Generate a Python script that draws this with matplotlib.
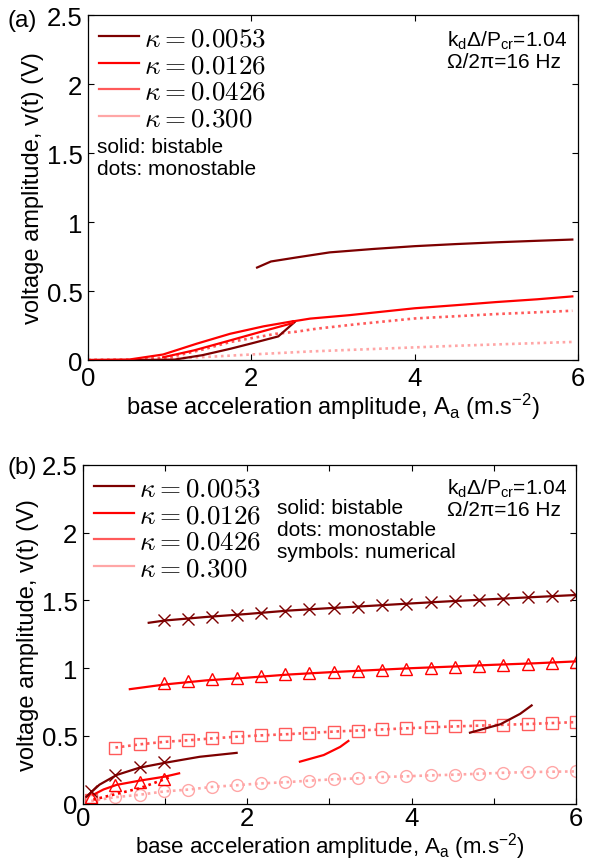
import matplotlib
matplotlib.use("Agg")
import matplotlib.pyplot as plt
import numpy as np
from matplotlib.lines import Line2D
from matplotlib.ticker import MultipleLocator

plt.rcParams['font.family'] = ['Liberation Sans', 'DejaVu Sans']
plt.rcParams['mathtext.fontset'] = 'custom'
plt.rcParams['mathtext.rm'] = 'Liberation Sans'
plt.rcParams['mathtext.it'] = 'Liberation Sans:italic'
plt.rcParams['mathtext.bf'] = 'Liberation Sans:bold'

c1 = '#7d0000'
c2 = '#ff0000'
c3 = '#ff5a5a'
c4 = '#ffa6a6'

kappas = ['0.0053', '0.0126', '0.0426', '0.300']
colors = [c1, c2, c3, c4]

# ---- panel (a) data
a_dark_up_x = [2.07, 2.24, 2.55, 2.96, 3.5, 4.0, 4.5, 5.0, 5.5, 5.93]
a_dark_up_y = [0.67, 0.714, 0.743, 0.78, 0.805, 0.825, 0.840, 0.853, 0.864, 0.873]
a_dark_lo_x = [0, 0.5, 1.06, 1.4, 1.74, 2.0, 2.33, 2.53]
a_dark_lo_y = [0, 0.0, 0.003, 0.035, 0.081, 0.12, 0.171, 0.275]
a_red1_x = [0, 0.5, 0.92, 1.33, 1.74, 2.15, 2.51]
a_red1_y = [0, 0.003, 0.04, 0.118, 0.19, 0.244, 0.281]
a_red2_x = [0.92, 1.3, 1.74, 2.15, 2.51]
a_red2_y = [0.02, 0.07, 0.142, 0.21, 0.268]
a_red3_x = [2.51, 2.72, 3.2, 3.6, 4.0, 4.5, 5.0, 5.5, 5.93]
a_red3_y = [0.28, 0.30, 0.325, 0.35, 0.375, 0.397, 0.42, 0.44, 0.461]
a_lt_x = [0, 0.5, 1.0, 1.4, 1.74, 2.0, 2.3, 2.55, 2.8, 3.3, 4.0, 5.0, 5.93]
a_lt_y = [0, 0.001, 0.02, 0.075, 0.13, 0.158, 0.19, 0.205, 0.227, 0.26, 0.301, 0.333, 0.357]
a_pink_x = [0, 0.5, 1.0, 1.5, 2.0, 2.72, 3.5, 4.5, 5.93]
a_pink_y = [0, 0.002, 0.01, 0.024, 0.04, 0.062, 0.08, 0.103, 0.131]

# ---- panel (b) data
num_x = np.linspace(0.1, 6, 21)
b_dark_up_x = [0.8, 1.0, 1.5, 2.0, 2.5, 3.0, 3.5, 4.0, 4.5, 5.0, 5.5, 6.0]
b_dark_up_y = [1.335, 1.352, 1.378, 1.40, 1.425, 1.443, 1.46, 1.478, 1.495, 1.51, 1.525, 1.54]
b_cross_up = [1.354, 1.366, 1.38, 1.395, 1.408, 1.422, 1.435, 1.444, 1.453, 1.464, 1.476,
              1.487, 1.497, 1.505, 1.513, 1.522, 1.531, 1.541]
b_dark_lo_x = [0.045, 0.2, 0.41, 0.69, 1.0, 1.42, 1.87]
b_dark_lo_y = [0.053, 0.14, 0.212, 0.266, 0.302, 0.346, 0.375]
b_cross_lo = [0.09, 0.21, 0.27, 0.31]
b_red_up_x = [0.57, 1.0, 1.5, 2.0, 2.5, 3.0, 3.5, 4.0, 4.5, 5.0, 5.5, 6.0]
b_red_up_y = [0.845, 0.88, 0.91, 0.93, 0.953, 0.97, 0.985, 1.0, 1.012, 1.025, 1.036, 1.05]
b_tri_up = [0.89, 0.905, 0.917, 0.927, 0.939, 0.954, 0.961, 0.971, 0.981, 0.988, 0.996,
            1.0, 1.007, 1.015, 1.025, 1.03, 1.037, 1.049]
b_red_lo_x = [0.126, 0.25, 0.41, 0.69, 1.0, 1.17]
b_red_lo_y = [0.066, 0.105, 0.139, 0.17, 0.2, 0.224]
b_tri_lo = [0.05, 0.14, 0.16, 0.18]
b_red_mid_x = [2.64, 2.93, 3.13, 3.23]
b_red_mid_y = [0.31, 0.359, 0.419, 0.463]
b_dark_mid_x = [4.71, 5.08, 5.32, 5.46]
b_dark_mid_y = [0.524, 0.586, 0.663, 0.725]
b_lt_lo_x = [0.126, 0.69, 1.08]
b_lt_lo_y = [0.03, 0.114, 0.2]
b_sq = [0.414, 0.438, 0.456, 0.468, 0.482, 0.494, 0.504, 0.512, 0.522, 0.532, 0.54,
        0.548, 0.556, 0.564, 0.57, 0.576, 0.582, 0.588, 0.595, 0.602]
b_sq0 = 0.025
b_circ = [0.02, 0.048, 0.066, 0.09, 0.104, 0.124, 0.136, 0.15, 0.158, 0.17, 0.18,
          0.187, 0.197, 0.202, 0.209, 0.214, 0.221, 0.228, 0.233, 0.236, 0.238]

lw = 1.6
dlw = 1.9
dot = (0, (1, 1.4))
ms = 8.5

fig = plt.figure(figsize=(5.89, 8.62), dpi=100)
ax1 = fig.add_axes([0.1494, 0.5812, 0.832, 0.4002])
ax2 = fig.add_axes([0.1409, 0.0665, 0.837, 0.393])

# panel (a)
ax1.plot(a_pink_x, a_pink_y, color=c4, lw=dlw, ls=dot)
ax1.plot(a_lt_x, a_lt_y, color=c3, lw=dlw, ls=dot)
ax1.plot(a_dark_lo_x, a_dark_lo_y, color=c1, lw=lw)
ax1.plot(a_red2_x, a_red2_y, color=c2, lw=lw)
ax1.plot(a_red1_x, a_red1_y, color=c2, lw=lw)
ax1.plot(a_red3_x, a_red3_y, color=c2, lw=lw)
ax1.plot(a_dark_up_x, a_dark_up_y, color=c1, lw=lw)

# panel (b)
ax2.plot(num_x, b_circ, color=c4, lw=dlw, ls=dot, marker='o', ms=ms, mfc='none', mew=1)
ax2.plot(num_x[1:], b_sq, color=c3, lw=dlw, ls=dot, marker='s', ms=ms, mfc='none', mew=1)
ax2.plot(num_x[0], b_sq0, color=c3, ls='none', marker='s', ms=ms, mfc='none', mew=1)
ax2.plot(b_lt_lo_x, b_lt_lo_y, color=c2, lw=dlw, ls=dot)
ax2.plot(b_red_lo_x, b_red_lo_y, color=c2, lw=lw)
ax2.plot(num_x[:4], b_tri_lo, color=c2, ls='none', marker='^', ms=ms, mfc='none', mew=1)
ax2.plot(b_dark_lo_x, b_dark_lo_y, color=c1, lw=lw)
ax2.plot(num_x[:4], b_cross_lo, color=c1, ls='none', marker='x', ms=ms, mew=1)
ax2.plot(b_red_up_x, b_red_up_y, color=c2, lw=lw)
ax2.plot(num_x[3:], b_tri_up, color=c2, ls='none', marker='^', ms=ms, mfc='none', mew=1)
ax2.plot(b_dark_up_x, b_dark_up_y, color=c1, lw=lw)
ax2.plot(num_x[3:], b_cross_up, color=c1, ls='none', marker='x', ms=ms, mew=1)
ax2.plot(b_red_mid_x, b_red_mid_y, color=c2, lw=lw)
ax2.plot(b_dark_mid_x, b_dark_mid_y, color=c1, lw=lw)

handles = [Line2D([], [], color=c, lw=lw) for c in colors]
labels = [r'$\kappa = %s$' % k for k in kappas]

for ax in (ax1, ax2):
    ax.set_xlim(0, 6)
    ax.set_ylim(0, 2.5)
    ax.set_yticks([0, 0.5, 1, 1.5, 2, 2.5])
    ax.set_yticklabels(['0', '0.5', '1', '1.5', '2', '2.5'])
    ax.set_xticks([0, 2, 4, 6])
    ax.tick_params(direction='in', top=True, right=True, labelsize=18.5, length=4, width=0.8, pad=4)
    for s in ax.spines.values():
        s.set_linewidth(0.9)
    ax.set_ylabel('voltage amplitude, v(t) (V)', fontsize=17, labelpad=2)
    leg = ax.legend(handles, labels, loc='upper left', frameon=False, fontsize=19.5,
                    handlelength=1.5, handletextpad=0.15, labelspacing=0.02,
                    borderaxespad=0.1, borderpad=0.3, bbox_to_anchor=(0.0, 1.0))
    for t in leg.get_texts():
        t.set_math_fontfamily('cm')

ax1.set_xlabel(r'base acceleration amplitude, A$_\mathrm{a}$ (m.s$^{\mathrm{-2}}$)', fontsize=17, labelpad=1)
ax2.set_xlabel(r'base acceleration amplitude, A$_\mathrm{a}$ (m.s$^{\mathrm{-2}}$)', fontsize=16, labelpad=0)
ax2.tick_params(axis='x', which='major', pad=2)

ax2.xaxis.set_minor_locator(MultipleLocator(1))
ax2.tick_params(which='minor', direction='in', top=True, length=4, width=0.8)

ax1.text(0.733, 0.910, r'k$_\mathrm{d}$Δ/P$_\mathrm{cr}$=1.04', transform=ax1.transAxes, fontsize=15)
ax1.text(0.733, 0.849, 'Ω/2π=16 Hz', transform=ax1.transAxes, fontsize=15)
ax1.text(0.018, 0.603, 'solid: bistable', transform=ax1.transAxes, fontsize=15)
ax1.text(0.018, 0.539, 'dots: monostable', transform=ax1.transAxes, fontsize=15)

ax2.text(0.738, 0.915, r'k$_\mathrm{d}$Δ/P$_\mathrm{cr}$=1.04', transform=ax2.transAxes, fontsize=15)
ax2.text(0.738, 0.851, 'Ω/2π=16 Hz', transform=ax2.transAxes, fontsize=15)
ax2.text(0.393, 0.859, 'solid: bistable', transform=ax2.transAxes, fontsize=15)
ax2.text(0.393, 0.793, 'dots: monostable', transform=ax2.transAxes, fontsize=15)
ax2.text(0.393, 0.727, 'symbols: numerical', transform=ax2.transAxes, fontsize=15)

fig.text(37 / 589, 1 - 21 / 862, '(a)', ha='right', va='center', fontsize=17.5)
fig.text(37 / 589, 1 - 468 / 862, '(b)', ha='right', va='center', fontsize=17.5)

fig.savefig('out.png', dpi=100)
